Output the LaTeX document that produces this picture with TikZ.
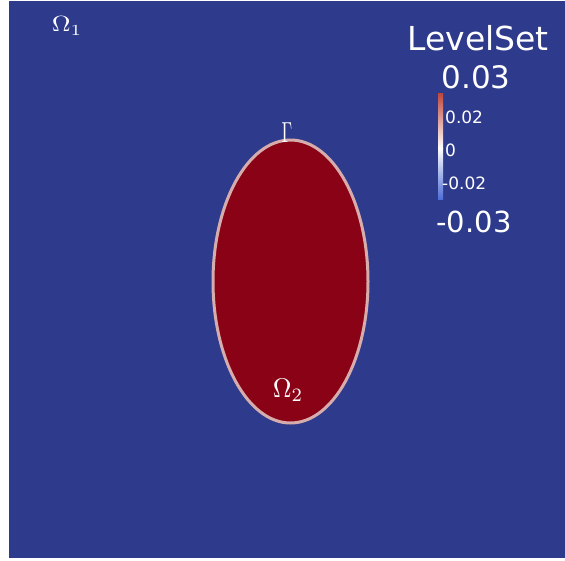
\documentclass[tikz,border=0pt]{standalone}
\usepackage{fontspec}
\usepackage{graphicx}
\usepackage{tikz}
\usetikzlibrary{positioning,calc}
\newfontfamily\barfont{DejaVu Sans}
\definecolor{outerblue}{RGB}{46,58,140}
\definecolor{innerred}{RGB}{138,2,22}
\definecolor{iface}{RGB}{214,172,172}
\definecolor{barred}{RGB}{190,70,60}
\definecolor{barblue}{RGB}{80,110,215}

\begin{document}
\begin{tikzpicture}[x=1pt,y=-1pt,
      lbl/.style={text=white,inner sep=0pt},
      bigtxt/.style={lbl,font=\barfont\fontsize{31}{31}\selectfont},
      ticktxt/.style={lbl,font=\barfont\fontsize{17}{17}\selectfont,anchor=west}]

    \useasboundingbox (0,0) rectangle (565,560);
    \fill[outerblue] (9,1) rectangle (565,558);

    % inclusion Omega_2 and its interface Gamma
    \fill[innerred,draw=iface,line width=3pt] (290.5,281.5) ellipse [x radius=77.5,y radius=141.5];

    \node[lbl] (om1) at (67,26) {\scalebox{2.6}[2.2]{$\Omega_1$}};
    \node[lbl] (om2) at (288,390) {\scalebox{2.6}[2.7]{$\Omega_2$}};
    \node[lbl,anchor=south] (gam) at (287,143) {\scalebox{1.7}[2.9]{$\Gamma$}};

    % colour bar
    \shade[top color=barred,bottom color=white] (438,93) rectangle (443,148);
    \shade[top color=white,bottom color=barblue] (438,148) rectangle (443,199);

    \node[bigtxt,font=\barfont\fontsize{33}{33}\selectfont] (title) at (478,38) {LevelSet};
    \node[bigtxt] (vmax) at (476,77) {0.03};
    \node[bigtxt,font=\barfont\fontsize{29}{29}\selectfont] (vmin) at (474,222) {-0.03};
    \node[ticktxt] (t1) at (445,117) {0.02};
    \node[ticktxt] (t2) at (445,150) {0};
    \node[ticktxt] (t3) at (442,183) {-0.02};
\end{tikzpicture}
\end{document}
